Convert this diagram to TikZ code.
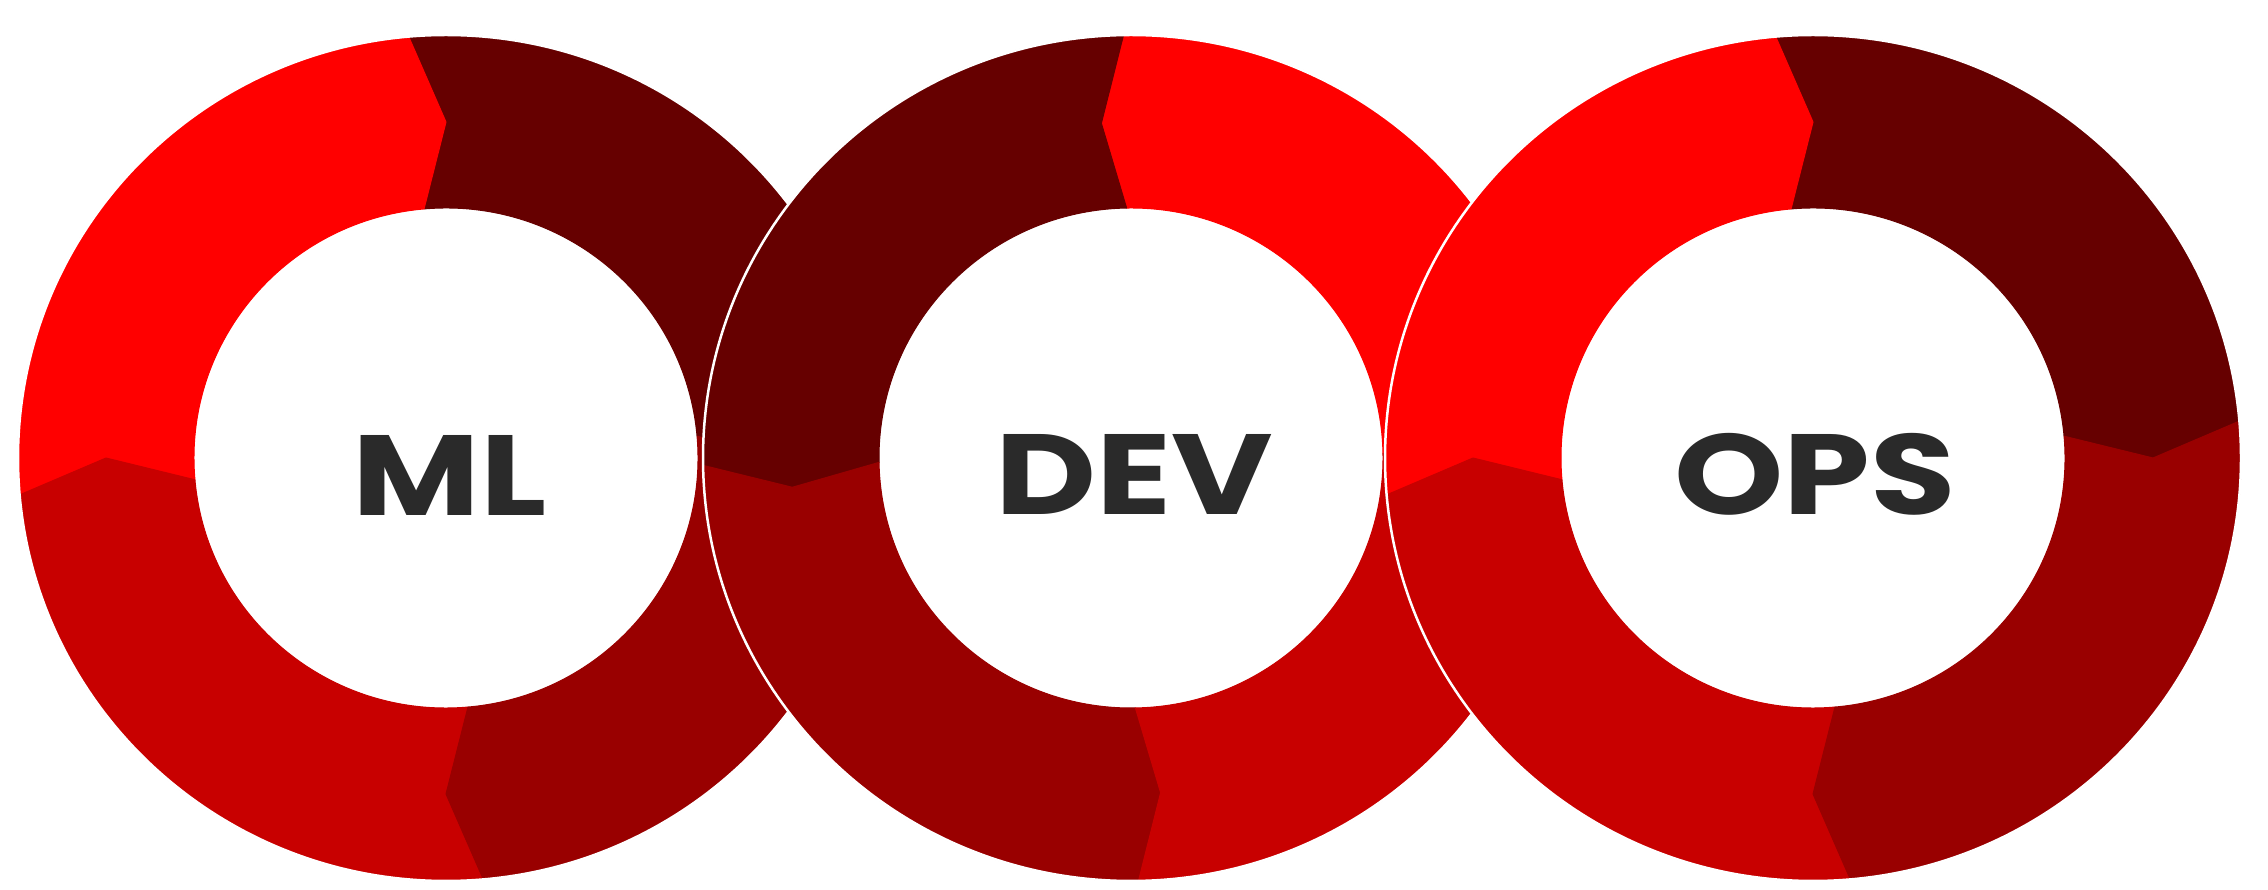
\documentclass[tikz,border=0pt]{standalone}
\usepackage{fontspec}
\newfontfamily\labelfont{Poppins}[FakeStretch=1.22]
\definecolor{segred}{HTML}{FF0000}
\definecolor{segdark}{HTML}{660000}
\definecolor{segdeep}{HTML}{990000}
\definecolor{segmid}{HTML}{C80000}
\definecolor{labelgray}{HTML}{2A2A2A}
\begin{document}
\begin{tikzpicture}[x=1pt,y=1pt,
  seg/.style={fill=#1,draw=#1,line width=1pt,line join=round},
  rim/.style={draw=white,line width=2.5pt},
  lbl/.style={font=\labelfont\bfseries\fontsize{114}{120}\selectfont,text=labelgray,anchor=base,inner sep=0pt}]
\fill[white] (0,0) rectangle (2268,889);
\useasboundingbox (0,0) rectangle (2268,889);
% rings: centre x, seam base offset, arrow tip offset, quarters NE/NW/SW/SE
\foreach \cx/\baseoff/\tipoff/\qa/\qb/\qc/\qd in {
    446/5/0/segdark/segred/segmid/segdeep,
    1131/1/5/segred/segdark/segdeep/segmid,
    1813/5/0/segdark/segred/segmid/segdeep} {
  \begin{scope}[shift={(\cx,431)}]
  \foreach \k/\col in {0/\qa,1/\qb,2/\qc,3/\qd} {
    \pgfmathsetmacro{\sa}{90*\k+\baseoff}
    \pgfmathsetmacro{\ea}{90*\k+90+\baseoff}
    \pgfmathsetmacro{\st}{90*\k+\tipoff}
    \pgfmathsetmacro{\et}{90*\k+90+\tipoff}
    \fill[seg=\col] (\sa:428pt and 423pt)
      arc[start angle=\sa, end angle=\ea, x radius=428pt, y radius=423pt]
      -- (\et:340pt and 336pt) -- (\ea:252pt and 250pt)
      arc[start angle=\ea, end angle=\sa, x radius=252pt, y radius=250pt]
      -- (\st:340pt and 336pt) -- cycle;
  }
  \draw[rim] (0,0) ellipse[x radius=428pt, y radius=423pt];
  \end{scope}
}
\node[lbl] (ml) at (450,373) {ML};
\node[lbl] (dev) at (1134,374) {DEV};
\node[lbl] (ops) at (1815,374) {OPS};
\end{tikzpicture}
\end{document}
